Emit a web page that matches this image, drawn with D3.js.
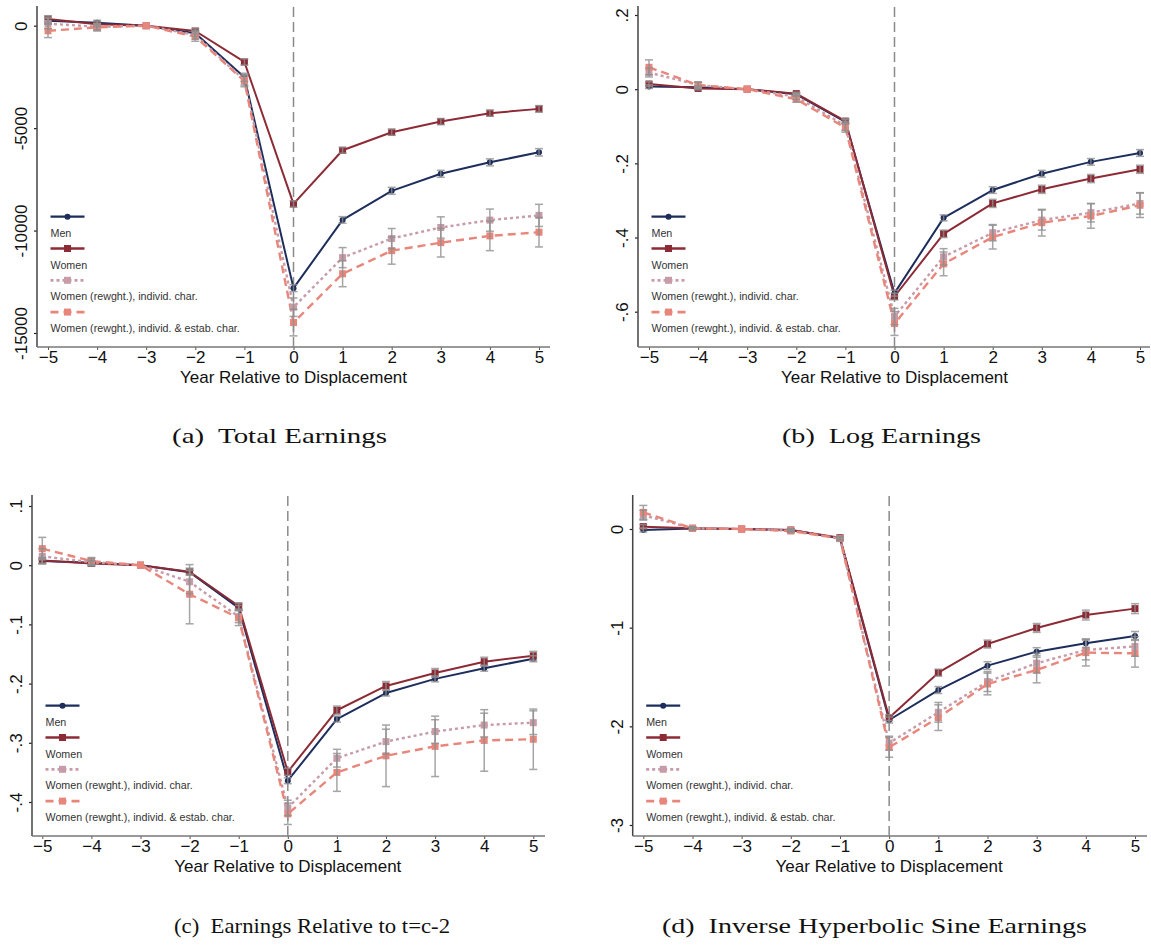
<!DOCTYPE html>
<html><head><meta charset="utf-8">
<script src="https://cdn.jsdelivr.net/npm/d3@7"></script>
<style>body{margin:0;background:#fff}svg{display:block}</style>
</head><body><svg id="chart" width="1151" height="945"></svg>
<script>
// ---------- data ----------
const years = [-5,-4,-3,-2,-1,0,1,2,3,4,5];
const seriesNames = ["Men","Women","Women (rewght.), individ. char.","Women (rewght.), individ. & estab. char."];

// (a) Total earnings
const totalMen      = [245,146,0,-370,-2520,-12810,-9480,-8060,-7230,-6670,-6180];
const totalMenCI    = [150,120,0,150,200,170,160,170,170,170,180];
const totalWomen    = [327,68,0,-260,-1770,-8700,-6080,-5200,-4680,-4270,-4060];
const totalWomenCI  = [150,120,0,130,150,150,140,150,150,150,160];
const totalRwI      = [100,-50,0,-450,-2650,-13740,-11320,-10390,-9850,-9490,-9260];
const totalRwICI    = [250,150,0,200,250,450,490,490,520,540,540];
const totalRwIE     = [-250,-80,0,-530,-2700,-14490,-12110,-10980,-10590,-10260,-10080];
const totalRwIECI   = [330,180,0,230,280,650,630,660,700,720,720];
const totalTicks      = [0,-5000,-10000,-15000];
const totalTickLabels = ["0","-5000","-10000","-15000"];

// (b) Log earnings
const logMen      = [0.007,0.005,0,-0.014,-0.088,-0.55,-0.347,-0.272,-0.228,-0.196,-0.172];
const logMenCI    = [0.005,0.004,0,0.004,0.006,0.008,0.008,0.009,0.009,0.009,0.009];
const logWomen    = [0.014,0.002,0,-0.012,-0.086,-0.559,-0.39,-0.308,-0.27,-0.241,-0.216];
const logWomenCI  = [0.006,0.004,0,0.004,0.006,0.009,0.01,0.011,0.011,0.011,0.011];
const logRwI      = [0.045,0.011,0,-0.02,-0.099,-0.613,-0.452,-0.387,-0.353,-0.333,-0.308];
const logRwICI    = [0.012,0.008,0,0.008,0.012,0.022,0.022,0.022,0.027,0.025,0.029];
const logRwIE     = [0.059,0.011,0,-0.027,-0.104,-0.632,-0.471,-0.399,-0.36,-0.342,-0.313];
const logRwIECI   = [0.02,0.008,0,0.008,0.012,0.032,0.032,0.032,0.036,0.033,0.033];
const logTicks      = [0.2,0,-0.2,-0.4,-0.6];
const logTickLabels = [".2","0","-.2","-.4","-.6"];

// (c) Earnings relative to t=c-2
const relMen      = [0.007,0.004,0,-0.012,-0.072,-0.364,-0.26,-0.216,-0.192,-0.174,-0.158];
const relMenCI    = [0.004,0.003,0,0.003,0.004,0.005,0.005,0.005,0.005,0.005,0.005];
const relWomen    = [0.008,0.003,0,-0.011,-0.069,-0.349,-0.245,-0.204,-0.182,-0.163,-0.153];
const relWomenCI  = [0.005,0.004,0,0.006,0.005,0.006,0.007,0.0075,0.0075,0.0075,0.0075];
const relRwI      = [0.015,0.005,0,-0.028,-0.087,-0.41,-0.326,-0.298,-0.281,-0.27,-0.266];
const relRwICI    = [0.013,0.006,0,0.02,0.01,0.013,0.015,0.021,0.02,0.02,0.02];
const relRwIE     = [0.028,0.007,0,-0.049,-0.089,-0.42,-0.35,-0.322,-0.306,-0.296,-0.294];
const relRwIECI   = [0.019,0.006,0,0.05,0.013,0.018,0.032,0.052,0.051,0.052,0.051];
const relTicks      = [0.1,0,-0.1,-0.2,-0.3,-0.4];
const relTickLabels = [".1","0","-.1","-.2","-.3","-.4"];

// (d) Inverse hyperbolic sine earnings
const ihsMen      = [-0.01,0.005,0,-0.01,-0.095,-1.936,-1.632,-1.385,-1.243,-1.159,-1.084];
const ihsMenCI    = [0.02,0.01,0,0.01,0.015,0.03,0.035,0.04,0.04,0.045,0.045];
const ihsWomen    = [0.024,0.007,0,-0.01,-0.088,-1.912,-1.456,-1.166,-1.003,-0.872,-0.807];
const ihsWomenCI  = [0.02,0.01,0,0.01,0.015,0.03,0.035,0.04,0.045,0.05,0.05];
const ihsRwI      = [0.14,0.007,0,-0.017,-0.098,-2.17,-1.858,-1.547,-1.36,-1.226,-1.19];
const ihsRwICI    = [0.05,0.015,0,0.015,0.02,0.07,0.1,0.1,0.1,0.1,0.1];
const ihsRwIE     = [0.169,0.007,0,-0.02,-0.095,-2.213,-1.912,-1.571,-1.429,-1.253,-1.26];
const ihsRwIECI   = [0.07,0.015,0,0.015,0.02,0.1,0.13,0.11,0.13,0.135,0.14];
const ihsTicks      = [0,-1,-2,-3];
const ihsTickLabels = ["0","-1","-2","-3"];

const xTitle = "Year Relative to Displacement";
const captions = ["(a)  Total Earnings","(b)  Log Earnings","(c)  Earnings Relative to t=c-2","(d)  Inverse Hyperbolic Sine Earnings"];

// ---------- styles ----------
const styles = [
  {color:"#1d2d5c", dash:null, width:2, marker:"circle"},
  {color:"#8c2b36", dash:null, width:2, marker:"square"},
  {color:"#c79ca8", dash:"3,3", width:2.4, marker:"square"},
  {color:"#e8867b", dash:"8,5", width:2.4, marker:"square"}
];

const panels = [
  {vals:[totalMen,totalWomen,totalRwI,totalRwIE], cis:[totalMenCI,totalWomenCI,totalRwICI,totalRwIECI],
   ticks:totalTicks, labels:totalTickLabels, yDom:[0,-15000], yRng:[25.7,333],
   axisX:37, xa:48, xb:539, axisEnd:550, top:6, bottom:347, cap:captions[0], capX:172, capW:215, capY:443},
  {vals:[logMen,logWomen,logRwI,logRwIE], cis:[logMenCI,logWomenCI,logRwICI,logRwIECI],
   ticks:logTicks, labels:logTickLabels, yDom:[0.2,-0.6], yRng:[15,311.7],
   axisX:638, xa:649, xb:1140, axisEnd:1150, top:6, bottom:347, cap:captions[1], capX:782, capW:199, capY:443},
  {vals:[relMen,relWomen,relRwI,relRwIE], cis:[relMenCI,relWomenCI,relRwICI,relRwIECI],
   ticks:relTicks, labels:relTickLabels, yDom:[0.1,-0.4], yRng:[506,802],
   axisX:32, xa:42.3, xb:533.3, axisEnd:545, top:495, bottom:836, cap:captions[2], capX:174, capW:276, capY:933},
  {vals:[ihsMen,ihsWomen,ihsRwI,ihsRwIE], cis:[ihsMenCI,ihsWomenCI,ihsRwICI,ihsRwIECI],
   ticks:ihsTicks, labels:ihsTickLabels, yDom:[0,-3], yRng:[529,825],
   axisX:632.7, xa:643.3, xb:1135, axisEnd:1147, top:495, bottom:836, cap:captions[3], capX:662, capW:425, capY:933}
];

const svg = d3.select("#chart");
const FONT = "'Liberation Sans', Arial, Helvetica, sans-serif";

function marker(g, type, color, cx, cy){
  if(type==="circle"){
    g.append("circle").attr("cx",cx).attr("cy",cy).attr("r",3).attr("fill",color);
  } else {
    const s = 7;
    g.append("rect").attr("x",cx-s/2).attr("y",cy-s/2).attr("width",s).attr("height",s).attr("fill",color);
  }
}

panels.forEach(p=>{
  const x = d3.scaleLinear().domain([-5,5]).range([p.xa,p.xb]);
  const y = d3.scaleLinear().domain(p.yDom).range(p.yRng);
  const g = svg.append("g");

  // y axis
  const ya = g.append("g").attr("transform",`translate(${p.axisX},0)`)
    .call(d3.axisLeft(y).tickValues(p.ticks).tickFormat((d,i)=>p.labels[i]).tickSize(3).tickSizeOuter(0));
  ya.select(".domain").remove();
  ya.append("line").attr("x1",0).attr("x2",0).attr("y1",p.top).attr("y2",p.bottom).attr("stroke","#444").attr("stroke-width",1.5);
  ya.selectAll(".tick line").attr("stroke","#222").attr("stroke-width",1.2);
  ya.selectAll(".tick text").attr("transform","rotate(-90)").attr("x",0).attr("y",-10).attr("dy",0)
    .attr("text-anchor","middle").attr("font-family",FONT).attr("font-size",17).attr("fill","#111");

  // x axis
  const xa = g.append("g").attr("transform",`translate(0,${p.bottom})`)
    .call(d3.axisBottom(x).tickValues(years).tickFormat(d3.format("d")).tickSize(3).tickSizeOuter(0));
  xa.select(".domain").remove();
  xa.append("line").attr("x1",p.axisX).attr("x2",p.axisEnd).attr("y1",0).attr("y2",0).attr("stroke","#777").attr("stroke-width",1.5);
  xa.selectAll(".tick line").attr("stroke","#555");
  xa.selectAll(".tick text").attr("font-family",FONT).attr("font-size",17).attr("fill","#111").attr("y",4);
  g.append("text").attr("x",x(0)).attr("y",p.bottom+36).attr("text-anchor","middle")
    .attr("font-family",FONT).attr("font-size",17).attr("fill","#111").text(xTitle);

  // vertical reference line
  g.append("line").attr("x1",x(0)).attr("x2",x(0)).attr("y1",p.top+1).attr("y2",p.bottom)
    .attr("stroke","#8a8a8a").attr("stroke-width",1.5).attr("stroke-dasharray","10,5");

  // lines
  p.vals.forEach((vals,si)=>{
    const st = styles[si];
    const line = d3.line().x((d,i)=>x(years[i])).y(d=>y(d));
    g.append("path").datum(vals).attr("d",line).attr("fill","none")
      .attr("stroke",st.color).attr("stroke-width",st.width)
      .attr("stroke-dasharray",st.dash).attr("stroke-linejoin","round");
  });
  // markers
  p.vals.forEach((vals,si)=>{
    const st = styles[si];
    vals.forEach((v,i)=>marker(g, st.marker, st.color, x(years[i]), y(v)));
  });
  // error bars
  p.vals.forEach((vals,si)=>{
    const ci = p.cis[si];
    vals.forEach((v,i)=>{
      if(ci[i]<=0) return;
      const cx = x(years[i]), y1 = y(v+ci[i]), y2 = y(v-ci[i]);
      const eb = g.append("g").attr("stroke","#8f8f8f").attr("stroke-width",1.5).attr("opacity",0.8);
      eb.append("line").attr("x1",cx).attr("x2",cx).attr("y1",y1).attr("y2",y2);
      eb.append("line").attr("x1",cx-4).attr("x2",cx+4).attr("y1",y1).attr("y2",y1);
      eb.append("line").attr("x1",cx-4).attr("x2",cx+4).attr("y1",y2).attr("y2",y2);
    });
  });

  // legend
  const lx = p.axisX + 13.5, ly0 = p.bottom - 130.3;
  seriesNames.forEach((name,si)=>{
    const st = styles[si];
    const ly = ly0 + si*31.8;
    g.append("line").attr("x1",lx).attr("x2",lx+34).attr("y1",ly).attr("y2",ly)
      .attr("stroke",st.color).attr("stroke-width",st.width+0.3).attr("stroke-dasharray",st.dash);
    marker(g, st.marker, st.color, lx+17, ly);
    g.append("text").attr("x",lx).attr("y",ly+20).attr("font-family",FONT).attr("font-size",10.7)
      .attr("fill","#333").text(name);
  });

  // caption
  svg.append("text").attr("x",p.capX).attr("y",p.capY).attr("font-family","'Liberation Serif','Times New Roman',serif")
    .attr("font-size",22).attr("fill","#111").attr("textLength",p.capW).attr("lengthAdjust","spacingAndGlyphs")
    .attr("xml:space","preserve").text(p.cap);
});
</script>
</body></html>
